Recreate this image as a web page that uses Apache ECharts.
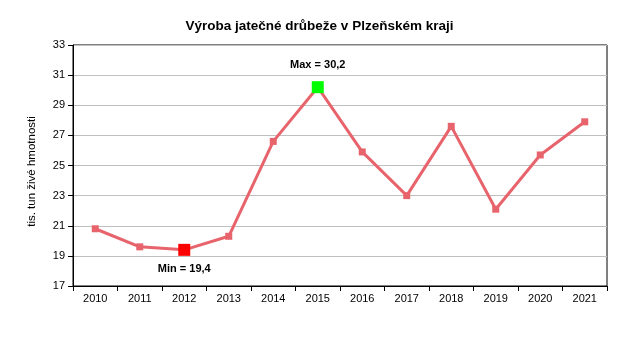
<!DOCTYPE html>
<html><head><meta charset="utf-8">
<script src="https://cdn.jsdelivr.net/npm/echarts@6/dist/echarts.min.js"></script>
<style>html,body{margin:0;padding:0;background:#fff}#c{width:639px;height:356px}</style>
</head><body><div id="c"></div>
<script>
var title = 'Výroba jatečné drůbeže v Plzeňském kraji';
var yName = 'tis. tun živé hmotnosti';
var years = ['2010','2011','2012','2013','2014','2015','2016','2017','2018','2019','2020','2021'];
var values = [20.8, 19.6, 19.4, 20.3, 26.6, 30.2, 25.9, 23.0, 27.6, 22.1, 25.7, 27.9];

var maxV = Math.max.apply(null, values), minV = Math.min.apply(null, values);
var fmt = function(v){ return v.toFixed(1).replace('.', ','); };
var F = 'Liberation Sans, Arial, sans-serif';
var lineColor = '#e8646c';
var data = values.map(function(v){
  if (v === maxV) return {value: v, symbolSize: 12, itemStyle:{color:'#00ff00'},
    label:{show:true, position:'top', distance:11, formatter:'Max = ' + fmt(v), fontWeight:'bold', fontSize:11, fontFamily:F, color:'#000'}};
  if (v === minV) return {value: v, symbolSize: 12, itemStyle:{color:'#ff0000'},
    label:{show:true, position:'bottom', distance:8, formatter:'Min = ' + fmt(v), fontWeight:'bold', fontSize:11, fontFamily:F, color:'#000'}};
  return v;
});
var chart = echarts.init(document.getElementById('c'));
chart.setOption({
  animation:false,
  title:{text:title, left:'center', top:14, textStyle:{fontSize:13.5, fontWeight:'bold', fontFamily:F, color:'#000'}},
  grid:{left:73, right:32, top:45, bottom:70, show:true, borderColor:'#000', borderWidth:1},
  xAxis:{type:'category', data:years, boundaryGap:true,
    axisLine:{lineStyle:{color:'#000'}},
    axisTick:{show:true, interval:0, length:5, lineStyle:{color:'#000'}},
    axisLabel:{fontSize:11, fontFamily:F, color:'#000', margin:7, interval:0}},
  yAxis:{type:'value', min:17, max:33, interval:2,
    name:yName, nameLocation:'middle', nameGap:35, nameRotate:90,
    nameTextStyle:{fontSize:11.5, fontFamily:F, color:'#000', padding:[0,12,0,0]},
    axisLine:{show:true, lineStyle:{color:'#000'}},
    axisTick:{show:true, length:5, lineStyle:{color:'#000'}},
    axisLabel:{fontSize:11, fontFamily:F, color:'#000', margin:8},
    splitLine:{lineStyle:{color:'#c0c0c0'}}},
  series:[{type:'line', data:data, symbol:'rect', symbolSize:7,
    lineStyle:{color:lineColor, width:3}, itemStyle:{color:lineColor}}]
});
</script></body></html>
